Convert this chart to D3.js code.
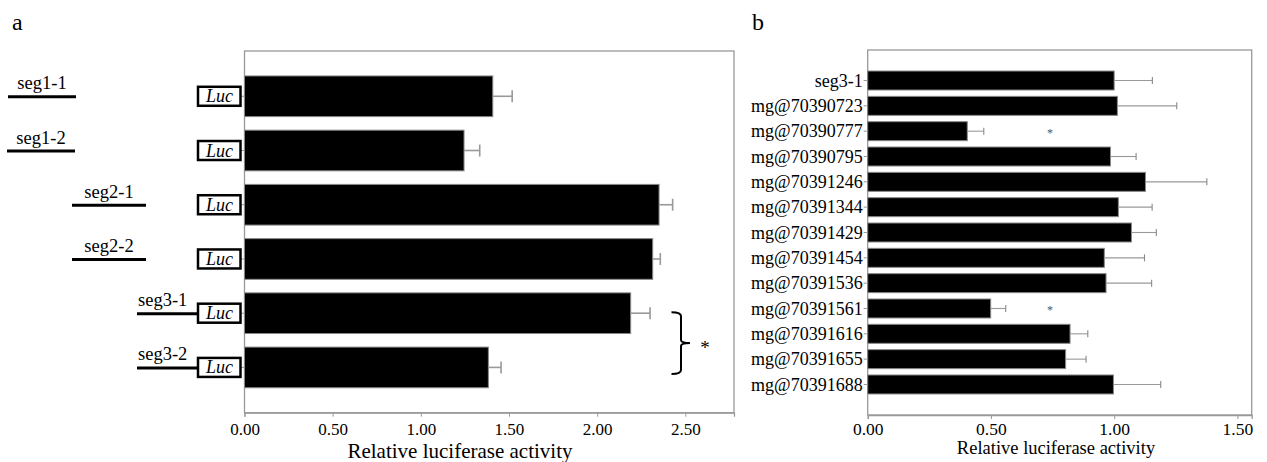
<!DOCTYPE html>
<html><head><meta charset="utf-8">
<script src="https://cdn.jsdelivr.net/npm/d3@7"></script>
<style>
html,body{margin:0;padding:0;background:#fff;}
svg{display:block;font-family:"Liberation Serif","Times New Roman",serif;}
svg text{font-family:"Liberation Serif","Times New Roman",serif;}
</style></head>
<body>
<svg id="c" width="1267" height="462"></svg>
<script>
// ---------- DATA ----------
const catsA = ["seg1-1","seg1-2","seg2-1","seg2-2","seg3-1","seg3-2"];
const valsA = [1.408, 1.245, 2.351, 2.315, 2.19, 1.383];
const errA  = [0.110, 0.089, 0.077, 0.043, 0.11, 0.072];
const ticksA = [0, 0.5, 1.0, 1.5, 2.0, 2.5];

const catsB = ["seg3-1","mg@70390723","mg@70390777","mg@70390795","mg@70391246","mg@70391344",
  "mg@70391429","mg@70391454","mg@70391536","mg@70391561","mg@70391616","mg@70391655","mg@70391688"];
const valsB = [1.000, 1.013, 0.404, 0.985, 1.127, 1.017, 1.070, 0.960, 0.967, 0.499, 0.821, 0.803, 0.997];
const errB  = [0.155, 0.241, 0.067, 0.104, 0.249, 0.137, 0.101, 0.163, 0.185, 0.061, 0.072, 0.083, 0.192];
const sigB  = [false,false,true,false,false,false,false,false,false,true,false,false,false];
const ticksB = [0, 0.5, 1.0, 1.5];
const xTitle = "Relative luciferase activity";

// ---------- DRAW ----------
const FONT = "Liberation Serif";
const svg = d3.select("#c");
const grey = "#999";

// Panel letters
svg.append("text").attr("x",12).attr("y",30).attr("font-size",24).text("a");
svg.append("text").attr("x",752).attr("y",30).attr("font-size",24).text("b");

// ===== Panel a =====
const xA = d3.scaleLinear().domain([0, 2.776]).range([244.5, 734]);
const yA = d3.scaleBand().domain(catsA).range([51, 412.7]).paddingInner(0.25).paddingOuter(0.46);
const gA = svg.append("g");

gA.append("rect").attr("x",xA(0)).attr("y",51).attr("width",xA.range()[1]-xA(0)).attr("height",412.7-51)
  .attr("fill","none").attr("stroke",grey).attr("stroke-width",1.3);

gA.selectAll("rect.bar").data(catsA).join("rect").attr("class","bar")
  .attr("x",xA(0)).attr("y",d=>yA(d)).attr("height",yA.bandwidth())
  .attr("width",(d,i)=>xA(valsA[i])-xA(0))
  .attr("fill","#000").attr("stroke","#888").attr("stroke-width",1);

gA.selectAll("g.err").data(catsA).join("g").attr("class","err").each(function(d,i){
  const g=d3.select(this), cy=yA(d)+yA.bandwidth()/2, x1=xA(valsA[i]), x2=xA(valsA[i]+errA[i]);
  g.append("line").attr("x1",x1).attr("x2",x2).attr("y1",cy).attr("y2",cy).attr("stroke",grey).attr("stroke-width",1.6);
  g.append("line").attr("x1",x2).attr("x2",x2).attr("y1",cy-6).attr("y2",cy+6).attr("stroke",grey).attr("stroke-width",1.6);
});

const axA = gA.append("g").attr("transform","translate(0,412.7)")
  .call(d3.axisBottom(xA).tickValues(ticksA).tickFormat(d3.format(".2f")).tickSize(4).tickPadding(4))
  .attr("font-family",FONT);
axA.select(".domain").attr("stroke",grey).attr("stroke-width",1.3);
axA.selectAll(".tick line").attr("stroke",grey);
axA.selectAll(".tick text").attr("font-size",17).attr("font-family",FONT).attr("fill","#000")
  .attr("dy",null).attr("y",22.3);

const ayA = gA.append("g").attr("transform",`translate(${xA(0)},0)`)
  .call(d3.axisLeft(yA).tickSize(4).tickFormat(""));
ayA.select(".domain").remove();
ayA.selectAll(".tick line").attr("stroke",grey);

gA.append("text").attr("x",460).attr("y",458).attr("text-anchor","middle").attr("font-size",21).text(xTitle);

// construct diagrams: segment line + Luc box
const segLayout = [
  {x1:8, x2:76, anchor:"middle"},
  {x1:7, x2:75, anchor:"middle"},
  {x1:72, x2:146, anchor:"middle"},
  {x1:72, x2:146, anchor:"middle"},
  {x1:137, x2:197, anchor:"start"},
  {x1:137, x2:197, anchor:"start"}
];
catsA.forEach((c,i)=>{
  const cy = yA(c)+yA.bandwidth()/2, L = segLayout[i];
  gA.append("line").attr("x1",L.x1).attr("x2",L.x2).attr("y1",cy+0.5).attr("y2",cy+0.5)
    .attr("stroke","#000").attr("stroke-width",3);
  gA.append("text").attr("x", L.anchor==="middle" ? (L.x1+L.x2)/2 : L.x1+1).attr("y",cy-7)
    .attr("text-anchor",L.anchor).attr("font-size",18.5).text(c);
  gA.append("rect").attr("x",198).attr("y",cy-9.5).attr("width",42.5).attr("height",19)
    .attr("fill","#fff").attr("stroke","#000").attr("stroke-width",2.5);
  gA.append("text").attr("x",219.5).attr("y",cy+6).attr("text-anchor","middle")
    .attr("font-size",18).attr("font-style","italic").text("Luc");
});

// significance bracket between seg3-1 and seg3-2
{
  const yT = yA("seg3-1")+yA.bandwidth()/2-1, yB = yA("seg3-2")+yA.bandwidth()/2+6.5;
  const ym = (yT+yB)/2;
  const p = d3.path();
  p.moveTo(671.5,yT); p.quadraticCurveTo(681,yT,681,yT+4); p.lineTo(681,ym-3);
  p.quadraticCurveTo(681,ym,690,ym); p.quadraticCurveTo(681,ym,681,ym+3);
  p.lineTo(681,yB-4); p.quadraticCurveTo(681,yB,671.5,yB);
  gA.append("path").attr("d",p.toString()).attr("fill","none").attr("stroke","#000").attr("stroke-width",2);
  gA.append("text").attr("x",705).attr("y",ym+11).attr("text-anchor","middle").attr("font-size",19).text("*");
}

// ===== Panel b =====
const xB = d3.scaleLinear().domain([0, 1.558]).range([867.7, 1251.7]);
const yB = d3.scaleBand().domain(catsB).range([50, 415]).paddingInner(0.25).paddingOuter(0.83);
const gB = svg.append("g");

gB.append("rect").attr("x",xB(0)).attr("y",50).attr("width",xB.range()[1]-xB(0)).attr("height",415-50)
  .attr("fill","none").attr("stroke",grey).attr("stroke-width",1.3);

gB.selectAll("rect.bar").data(catsB).join("rect").attr("class","bar")
  .attr("x",xB(0)).attr("y",d=>yB(d)).attr("height",yB.bandwidth())
  .attr("width",(d,i)=>xB(valsB[i])-xB(0))
  .attr("fill","#000").attr("stroke","#888").attr("stroke-width",1);

gB.selectAll("g.err").data(catsB).join("g").attr("class","err").each(function(d,i){
  const g=d3.select(this), cy=yB(d)+yB.bandwidth()/2, x1=xB(valsB[i]), x2=xB(valsB[i]+errB[i]);
  g.append("line").attr("x1",x1).attr("x2",x2).attr("y1",cy).attr("y2",cy).attr("stroke",grey).attr("stroke-width",1.1);
  g.append("line").attr("x1",x2).attr("x2",x2).attr("y1",cy-3.5).attr("y2",cy+3.5).attr("stroke","#888").attr("stroke-width",1.1);
});

gB.selectAll("text.sig").data(catsB.filter((d,i)=>sigB[i])).join("text").attr("class","sig")
  .attr("x",xB(0.74)).attr("y",d=>yB(d)+yB.bandwidth()/2+6).attr("text-anchor","middle")
  .attr("font-size",12).attr("fill","#555").text("*");

const axB = gB.append("g").attr("transform","translate(0,415)")
  .call(d3.axisBottom(xB).tickValues(ticksB).tickFormat(d3.format(".2f")).tickSize(4).tickPadding(4))
  .attr("font-family",FONT);
axB.select(".domain").attr("stroke",grey).attr("stroke-width",1.3);
axB.selectAll(".tick line").attr("stroke",grey);
axB.selectAll(".tick text").attr("font-size",17.5).attr("font-family",FONT).attr("fill","#000")
  .attr("dy",null).attr("y",20);

const ayB = gB.append("g").attr("transform",`translate(${xB(0)},0)`)
  .call(d3.axisLeft(yB).tickSize(4).tickPadding(1))
  .attr("font-family",FONT);
ayB.select(".domain").remove();
ayB.selectAll(".tick line").attr("stroke",grey);
ayB.selectAll(".tick text").attr("font-size",18).attr("font-family",FONT).attr("fill","#000")
  .attr("dy","0.34em");

gB.append("text").attr("x",1056).attr("y",454).attr("text-anchor","middle").attr("font-size",18.5).text(xTitle);
</script>
</body></html>
